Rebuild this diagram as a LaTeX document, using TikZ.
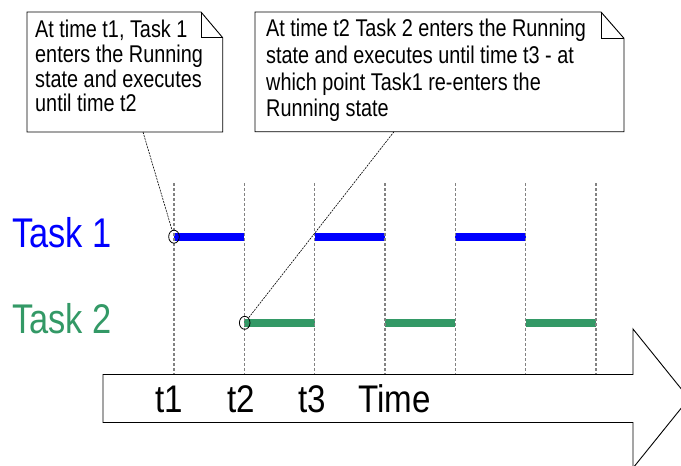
\documentclass[tikz,border=0pt]{standalone}
\usepackage{fontspec}
\newfontfamily\af[FakeStretch=0.82]{Liberation Sans}
\newfontfamily\tf[FakeStretch=0.83]{Liberation Sans}
\newfontfamily\mf[FakeStretch=0.86]{Liberation Sans}
\usetikzlibrary{shapes.geometric}
\definecolor{taskblue}{RGB}{0,0,255}
\definecolor{taskgreen}{RGB}{51,153,102}
\definecolor{gridgray}{RGB}{130,130,130}
\begin{document}
\begin{tikzpicture}[x=1pt,y=-1pt,
  callout/.style={draw=black, line width=0.9pt, fill=white, line join=miter},
  fold/.style={draw=black, line width=0.9pt},
  noteline/.style={font=\af\fontsize{24.2}{25}\selectfont, anchor=base west, inner sep=0pt},
  tasklabel/.style={font=\tf\fontsize{41.5}{46}\selectfont, anchor=base west, inner sep=0pt},
  timelabel/.style={font=\mf\fontsize{38.5}{42}\selectfont, anchor=base west, inner sep=0pt},
  gridline/.style={gridgray, line width=1.5pt, dash pattern=on 3pt off 2pt},
  bar/.style={line width=8pt},
  marker/.style={ellipse, draw=black, line width=0.8pt, minimum width=10.6pt, minimum height=13pt, inner sep=0pt},
  leader/.style={draw=black, line width=0.6pt, dash pattern=on 2pt off 1pt},
  timearrow/.style={draw=black, line width=0.9pt, fill=white, line join=miter}]
\useasboundingbox (0,0) rectangle (681,466);

% task labels
\node[tasklabel, text=taskblue] (task1) at (12,247.3) {Task 1};
\node[tasklabel, text=taskgreen] (task2) at (12,333.3) {Task 2};

% execution bars
\draw[bar, taskblue] (174,236.7) -- (244.3,236.7);
\draw[bar, taskblue] (314.7,236.7) -- (385,236.7);
\draw[bar, taskblue] (455.3,236.7) -- (525.7,236.7);
\draw[bar, taskgreen] (244.3,322.8) -- (314.7,322.8);
\draw[bar, taskgreen] (385,322.8) -- (455.3,322.8);
\draw[bar, taskgreen] (525.7,322.8) -- (596,322.8);

% grid lines
\foreach \x in {174,244.3,314.7,385,455.3,525.7,596}
  \draw[gridline] (\x,183) -- (\x,374);

% time arrow
\draw[timearrow] (103,374.5) -- (633,374.5) -- (633,329) -- (689,398.5) -- (633,468) -- (633,422.5) -- (103,422.5) -- cycle;
\node[timelabel] (t1) at (155.5,412.3) {t1};
\node[timelabel] (t2) at (227.5,412.3) {t2};
\node[timelabel] (t3) at (298.5,412.3) {t3};
\node[timelabel] (time) at (358,412.3) {Time};

% markers
\node[marker] (m1) at (174,236.7) {};
\node[marker] (m2) at (244.7,322.8) {};

% callout 1
\draw[callout] (27,12) -- (201,12) -- (222.7,37.7) -- (222.7,132) -- (27,132) -- cycle;
\draw[fold] (201,12) -- (201,37.7) -- (222.7,37.7);
\foreach \t [count=\i from 0] in {{At time t1, Task 1},{enters the Running},{state and executes},{until time t2}}
  \node[noteline] (noteA\i) at (35,{37.7+24.7*\i}) {\t};

% callout 2
\draw[callout] (255,12) -- (601,12) -- (624,38.3) -- (624,131.7) -- (255,131.7) -- cycle;
\draw[fold] (601,12) -- (601,38.3) -- (624,38.3);
\foreach \t [count=\i from 0] in {{At time t2 Task 2 enters the Running},{state and executes until time t3 - at},{which point Task1 re-enters the},{Running state}}
  \node[noteline] (noteB\i) at (266,{36.7+26.7*\i}) {\t};

% leaders
\coordinate (n1) at (143,132);
\coordinate (n2) at (394,131.7);
\draw[leader] (n1) -- (m1);
\draw[leader] (n2) -- (m2);
\end{tikzpicture}
\end{document}
